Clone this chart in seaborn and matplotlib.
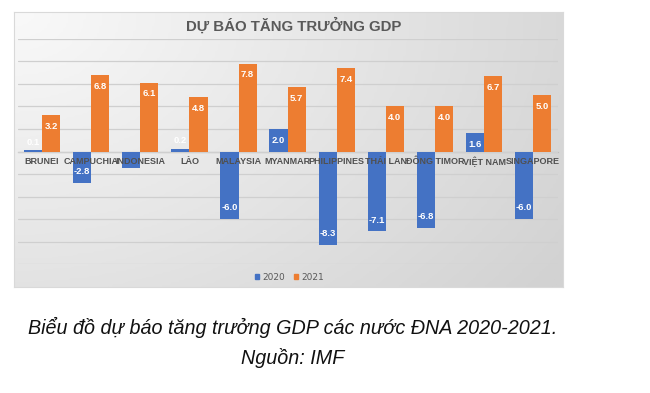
import numpy as np
import pandas as pd
import matplotlib.pyplot as plt
import seaborn as sns
from matplotlib.colors import LinearSegmentedColormap
from matplotlib.patches import Patch
from matplotlib.transforms import offset_copy

# GDP growth forecast (IMF), %
countries = ['BRUNEI', 'CAMPUCHIA', 'INDONESIA', 'LÀO', 'MALAYSIA', 'MYANMAR',
             'PHILIPPINES', 'THÁI LAN', 'ĐÔNG TIMOR', 'VIỆT NAM', 'SINGAPORE']
gdp_2020 = [0.1, -2.8, -1.5, 0.2, -6.0, 2.0, -8.3, -7.1, -6.8, 1.6, -6.0]
gdp_2021 = [3.2, 6.8, 6.1, 4.8, 7.8, 5.7, 7.4, 4.0, 4.0, 6.7, 5.0]
years = ['2020', '2021']

df = pd.DataFrame({'country': countries, '2020': gdp_2020, '2021': gdp_2021})
df = df.melt(id_vars='country', var_name='year', value_name='gdp')

sns.set_style('white')
plt.rcParams['font.family'] = ['DejaVu Sans']

fig = plt.figure(figsize=(6.5, 3.93), dpi=100)

# chart box with soft grey gradient
bg = fig.add_axes([0.0215, 0.27, 0.845, 0.699])
xx, yy = np.meshgrid(np.linspace(0, 1, 200), np.linspace(0, 1, 120))
grad = np.sqrt(xx ** 2 + (yy * 0.7) ** 2)
cmap = LinearSegmentedColormap.from_list('bgg', ['#f9f9f9', '#e6e6e6', '#d2d2d2'])
bg.imshow(grad, cmap=cmap, vmin=0, vmax=1.2, aspect='auto',
          extent=[0, 1, 0, 1], origin='upper')
bg.set_xticks([])
bg.set_yticks([])
for s in bg.spines.values():
    s.set_color('#d9d9d9')
    s.set_linewidth(0.8)
bg.text(0.51, 0.95, 'DỰ BÁO TĂNG TRƯỞNG GDP', ha='center', va='center',
        fontsize=10.8, fontweight='bold', color='#595959', family='Liberation Sans',
        transform=bg.transAxes)

ax = fig.add_axes([0.027, 0.328, 0.831, 0.573])
ax.set_facecolor('none')
palette = {'2020': '#4472C4', '2021': '#ED7D31'}
sns.barplot(data=df, x='country', y='gdp', hue='year', palette=palette,
            width=0.74, gap=0, saturation=1, linewidth=0, ax=ax, legend=False)

ax.set_ylim(-10, 10)
ax.set_yticks(np.arange(-10, 11, 2))
ax.yaxis.grid(True, color='#cfcfcf', linewidth=0.9)
ax.set_axisbelow(True)
ax.set_xlabel('')
ax.set_ylabel('')
ax.set_yticklabels([])
ax.set_xticklabels([])
ax.tick_params(axis='both', length=0)
for s in ['top', 'left', 'right']:
    ax.spines[s].set_visible(False)
ax.spines['bottom'].set_position(('data', 0))
ax.spines['bottom'].set_color('#bfbfbf')
ax.spines['bottom'].set_linewidth(0.9)
ax.spines['bottom'].set_zorder(0.5)

# category names just under the zero line, drawn over the bars
below = offset_copy(ax.transData, fig=fig, x=0, y=-10, units='dots')
for i, name in enumerate(countries):
    ax.text(i, 0, name, transform=below, ha='center', va='center',
            fontsize=6.5, fontweight='bold', color='#505050',
            family='Liberation Sans', zorder=5)

# value labels at inside end of each bar
for p in ax.patches:
    v = p.get_height()
    if p.get_width() == 0:
        continue
    # short negative bar: its label sits under the category name (hidden, as in the source)
    if -2.5 < v < -1:
        continue
    cx = p.get_x() + p.get_width() / 2
    if abs(v) < 1:
        off = 6
    elif v > 0:
        off = -8
    else:
        off = 8
    ax.annotate(f'{v:.1f}', (cx, v), xytext=(0, off), textcoords='offset points',
                ha='center', va='center', fontsize=6.8, fontweight='bold',
                family='Liberation Sans', color='white', zorder=3)

# legend
handles = [Patch(color=palette[y], label=y) for y in years]
fig.legend(handles=handles, loc='center', bbox_to_anchor=(0.445, 0.295), ncol=2,
           frameon=False, fontsize=6.5, handlelength=0.5, handleheight=0.5,
           handletextpad=0.3, columnspacing=1.0, labelcolor='#595959')

# caption
fig.text(0.45, 0.167, 'Biểu đồ dự báo tăng trưởng GDP các nước ĐNA 2020-2021.',
         ha='center', va='center', fontsize=14.2, style='italic',
         family='Liberation Sans', color='#111111')
fig.text(0.45, 0.09, 'Nguồn: IMF', ha='center', va='center', fontsize=14.2,
         style='italic', family='Liberation Sans', color='#111111')

fig.savefig('out.png', dpi=100)
